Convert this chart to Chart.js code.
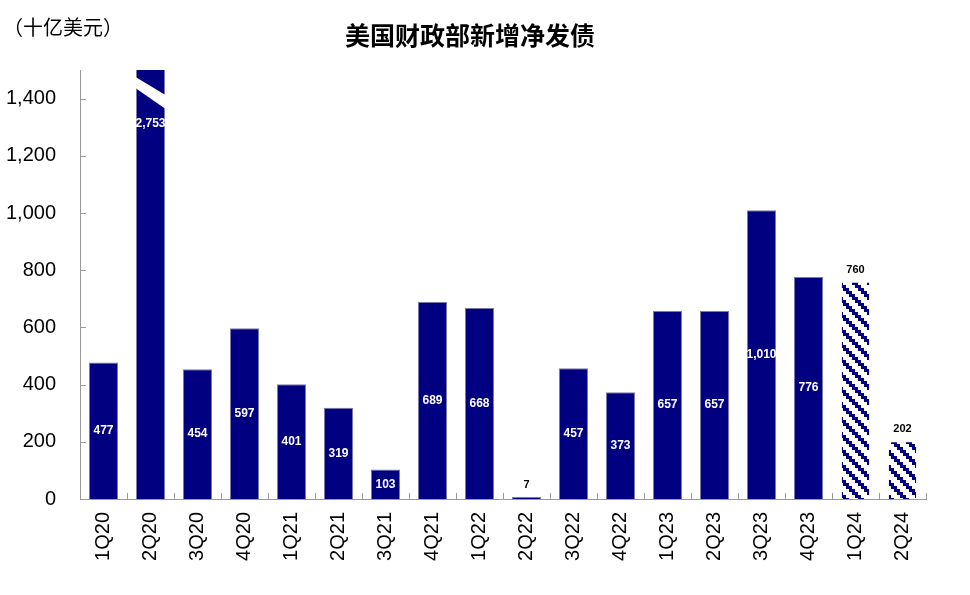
<!DOCTYPE html>
<html>
<head>
<meta charset="utf-8">
<script src="https://cdn.jsdelivr.net/npm/chart.js@4/dist/chart.umd.min.js"></script>
<style>
  html, body { margin: 0; padding: 0; background: #fff; }
  #wrap { width: 970px; height: 595px; position: relative; }
</style>
</head>
<body>
<div id="wrap"><canvas id="chart" width="970" height="595"></canvas></div>
<script>
// 数据
const quarters = ['1Q20', '2Q20', '3Q20', '4Q20', '1Q21', '2Q21', '3Q21', '4Q21', '1Q22',
    '2Q22', '3Q22', '4Q22', '1Q23', '2Q23', '3Q23', '4Q23', '1Q24', '2Q24'];
const netIssuance = [477, 2753, 454, 597, 401, 319, 103, 689, 668,
    7, 457, 373, 657, 657, 1010, 776, 760, 202];
// 预测季度（斜纹填充）
const isForecast = [false, false, false, false, false, false, false, false, false,
    false, false, false, false, false, false, false, true, true];
const yTicks = [0, 200, 400, 600, 800, 1000, 1200, 1400];

const chartTitle = '美国财政部新增净发债';
const unitLabel = '（十亿美元）';

const NAVY = '#000080';
const FONT = "'Liberation Sans', Arial, sans-serif";
const CJK = "'Noto Sans CJK SC', sans-serif";

// 斜纹图案
function makeHatch() {
    const c = document.createElement('canvas');
    c.width = 15;
    c.height = 15;
    const g = c.getContext('2d');
    g.fillStyle = '#fff';
    g.fillRect(0, 0, 15, 15);
    g.fillStyle = NAVY;
    for (let row = 0; row < 5; row++) {
        for (let col = 0; col < 5; col++) {
            const d = ((col - row) % 5 + 5) % 5;
            if (d === 0 || d === 1) g.fillRect(col * 3, row * 3, 3, 3);
        }
    }
    return g.createPattern(c, 'repeat');
}

const ctx = document.getElementById('chart').getContext('2d');
const hatch = makeHatch();

// 标题、刻度线、数据标签、截断标记
const decorPlugin = {
    id: 'decor',
    afterDraw(chart) {
        const c = chart.ctx;
        const area = chart.chartArea;
        const ys = chart.scales.y;
        const meta = chart.getDatasetMeta(0);

        c.save();
        // 标题
        c.fillStyle = '#000';
        c.textAlign = 'center';
        c.textBaseline = 'middle';
        c.font = 'bold 25px ' + CJK;
        c.fillText(chartTitle, 470, 35);
        c.textAlign = 'left';
        c.font = '20px ' + CJK;
        c.fillText(unitLabel, 3, 27);

        // 内向刻度线
        c.strokeStyle = '#999';
        c.lineWidth = 1;
        c.beginPath();
        yTicks.forEach(v => {
            const y = Math.round(ys.getPixelForValue(v)) + 0.5;
            c.moveTo(area.left, y);
            c.lineTo(area.left + 6, y);
        });
        const step = (area.right - area.left) / quarters.length;
        for (let i = 1; i <= quarters.length; i++) {
            const x = Math.round(area.left + i * step) + 0.5;
            c.moveTo(x, area.bottom);
            c.lineTo(x, area.bottom - 6);
        }
        c.stroke();

        // 截断标记（超出坐标轴的柱）
        meta.data.forEach((bar, i) => {
            if (netIssuance[i] <= ys.max) return;
            const l = bar.x - bar.width / 2 - 2;
            const r = bar.x + bar.width / 2 + 2;
            c.fillStyle = '#fff';
            c.beginPath();
            c.moveTo(l, area.top + 6);
            c.lineTo(r, area.top + 26);
            c.lineTo(r, area.top + 40);
            c.lineTo(l, area.top + 17);
            c.closePath();
            c.fill();
        });

        // 数据标签
        c.textAlign = 'center';
        c.textBaseline = 'middle';
        meta.data.forEach((bar, i) => {
            const v = netIssuance[i];
            const txt = v.toLocaleString('en-US');
            if (isForecast[i] || v < 50) {
                c.fillStyle = '#000';
                c.font = 'bold 11px ' + FONT;
                c.fillText(txt, bar.x, bar.y - 12);
            } else if (v > ys.max) {
                c.fillStyle = '#fff';
                c.font = 'bold 12px ' + FONT;
                c.fillText(txt, bar.x, area.top + 54);
            } else {
                c.fillStyle = '#fff';
                c.font = 'bold 12px ' + FONT;
                c.fillText(txt, bar.x, (bar.y + bar.base) / 2);
            }
        });
        c.restore();
    }
};

new Chart(ctx, {
    type: 'bar',
    data: {
        labels: quarters,
        datasets: [{
            data: netIssuance,
            backgroundColor: netIssuance.map((v, i) => isForecast[i] ? hatch : NAVY),
            borderColor: netIssuance.map((v, i) => isForecast[i] ? 'rgba(0,0,0,0)' : '#7a7aa8'),
            borderWidth: 1,
            barPercentage: 0.62,
            categoryPercentage: 1
        }]
    },
    options: {
        responsive: false,
        animation: false,
        layout: { padding: { top: 70, right: 44, left: 0, bottom: 0 } },
        plugins: {
            legend: { display: false },
            tooltip: { enabled: false }
        },
        scales: {
            x: {
                grid: { display: false, drawTicks: false },
                border: { color: '#999', width: 1 },
                ticks: {
                    color: '#000',
                    font: { family: FONT, size: 20 },
                    minRotation: 90,
                    maxRotation: 90,
                    padding: 13,
                    autoSkip: false
                },
                afterFit(scale) { scale.height = 96; }
            },
            y: {
                min: 0,
                max: 1500,
                grid: { display: false, drawTicks: false },
                border: { color: '#999', width: 1 },
                ticks: {
                    color: '#000',
                    font: { family: FONT, size: 20 },
                    padding: 24,
                    callback: v => v.toLocaleString('en-US')
                },
                afterBuildTicks(scale) {
                    scale.ticks = yTicks.map(v => ({ value: v }));
                },
                afterFit(scale) { scale.width = 80; }
            }
        }
    },
    plugins: [decorPlugin]
});
</script>
</body>
</html>
